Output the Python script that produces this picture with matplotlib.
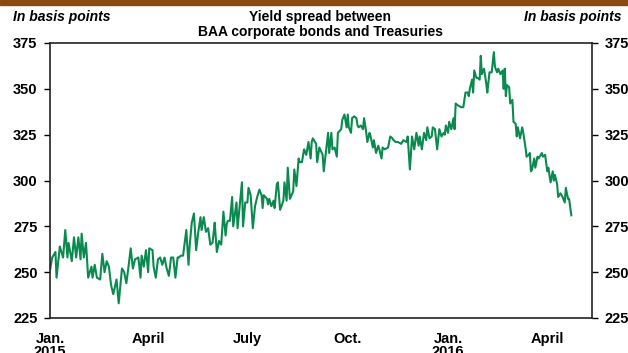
import pandas as pd
import matplotlib
matplotlib.use("Agg")
import matplotlib.pyplot as plt
from matplotlib.patches import Rectangle

# Days since 2015-01-01 and spread (basis points)
days = [0, 2, 5, 6, 9, 12, 14, 16, 17, 20, 22, 24, 26, 28, 29, 31, 33, 35, 38, 39,
        41, 43, 46, 48, 50, 52, 54, 56, 58, 61, 63, 66, 68, 70, 72, 74, 76, 78, 81, 83,
        84, 86, 88, 90, 91, 94, 95, 97, 99, 101, 103, 105, 107, 109, 111, 113, 115, 117, 118, 120,
        122, 125, 127, 128, 130, 132, 134, 136, 138, 139, 141, 143, 145, 147, 149, 150, 151, 153, 155, 157,
        159, 161, 162, 163, 165, 167, 168, 171, 172, 176, 177, 179, 181, 182, 184, 186, 188, 190, 192, 194,
        195, 196, 199, 200, 201, 203, 205, 206, 208, 209, 211, 214, 215, 217, 218, 220, 223, 224, 226, 228,
        229, 231, 233, 235, 237, 239, 240, 241, 244, 245, 247, 250, 251, 255, 256, 258, 259, 261, 263, 264,
        267, 268, 270, 272, 273, 274, 276, 277, 279, 281, 282, 283, 285, 287, 288, 290, 291, 293, 294, 296,
        297, 299, 301, 302, 304, 305, 307, 310, 312, 314, 315, 317, 319, 322, 324, 327, 328, 330, 332, 334,
        336, 338, 339, 341, 343, 345, 346, 348, 350, 351, 353, 355, 357, 359, 361, 362, 363, 365, 366, 368,
        370, 371, 372, 374, 377, 379, 381, 383, 384, 385, 387, 388, 389, 391, 392, 394, 395, 396, 398, 400,
        401, 403, 405, 407, 408, 410, 411, 413, 415, 416, 417, 418, 419, 421, 422, 424, 425, 427, 428, 429,
        431, 433, 434, 436, 437, 439, 440, 441, 442, 444, 445, 447, 448, 450, 451, 452, 454, 456, 457, 459,
        461, 462, 463, 465, 466, 468, 470, 472, 473, 475, 476, 478]
spread = [251, 258, 261, 247, 264, 258, 273, 258, 266, 256, 269, 258, 269, 257, 271, 258, 266, 247, 253, 247,
          254, 247, 246, 260, 250, 256, 253, 243, 238, 246, 233, 252, 250, 244, 253, 263, 252, 257, 258, 247,
          259, 253, 262, 250, 263, 262, 253, 247, 257, 258, 254, 258, 252, 248, 258, 258, 247, 258, 258, 259,
          259, 273, 254, 264, 277, 282, 262, 272, 280, 273, 280, 272, 274, 265, 266, 271, 277, 261, 267, 265,
          283, 270, 276, 278, 278, 291, 275, 288, 274, 299, 275, 288, 288, 296, 292, 274, 286, 291, 295, 292,
          285, 292, 290, 287, 290, 286, 289, 285, 298, 299, 284, 289, 299, 289, 307, 290, 294, 306, 297, 312,
          310, 310, 317, 314, 321, 312, 321, 323, 320, 310, 318, 314, 305, 326, 315, 326, 317, 318, 313, 326,
          328, 333, 336, 329, 336, 329, 326, 334, 335, 334, 330, 329, 330, 328, 334, 326, 321, 326, 324, 318,
          322, 315, 319, 317, 312, 318, 317, 318, 324, 323, 322, 321, 321, 320, 322, 321, 324, 306, 324, 317,
          326, 319, 324, 317, 326, 322, 329, 323, 324, 329, 328, 317, 328, 324, 326, 325, 330, 326, 332, 328,
          334, 328, 342, 341, 340, 340, 348, 348, 346, 350, 355, 348, 360, 356, 356, 355, 368, 358, 361, 353,
          348, 359, 359, 370, 362, 359, 361, 358, 360, 350, 361, 346, 352, 351, 342, 344, 332, 331, 324, 329,
          323, 329, 326, 318, 313, 314, 315, 305, 306, 312, 307, 313, 312, 314, 315, 313, 314, 305, 307, 299,
          305, 300, 303, 298, 291, 293, 291, 288, 296, 290, 290, 281]

y_ticks = [225, 250, 275, 300, 325, 350, 375]
x_tick_dates = ["2015-01-01", "2015-04-01", "2015-07-01", "2015-10-01", "2016-01-01", "2016-04-01"]
x_tick_labels = ["Jan.\n2015", "April", "July", "Oct.", "Jan.\n2016", "April"]

plt.rcParams["font.family"] = ["Liberation Sans", "DejaVu Sans"]

start = pd.Timestamp("2015-01-01")
dates = start + pd.to_timedelta(days, unit="D")

fig = plt.figure(figsize=(6.28, 3.53), dpi=100)
ax = fig.add_axes([50 / 628, 1 - 318 / 353, 542 / 628, 275 / 353])

ax.plot(dates, spread, color="#0b8a4f", linewidth=1.5)

ax.set_ylim(225, 375)
ax.set_xlim(start, start + pd.Timedelta(days=497))
ax.set_yticks(y_ticks)
ax.set_yticklabels([str(v) for v in y_ticks], fontsize=10.5, fontweight="bold")
ax.set_xticks(pd.to_datetime(x_tick_dates))
ax.set_xticklabels(x_tick_labels, fontsize=10.5, fontweight="bold", linespacing=0.9)
ax.tick_params(axis="x", length=0, pad=10)
ax.tick_params(axis="y", direction="out", length=4, width=1, pad=5,
               left=True, right=True, labelleft=True, labelright=True)
for s in ax.spines.values():
    s.set_linewidth(1.2)
    s.set_color("#222222")

# title and unit labels
fig.text(0.51, 1 - 10 / 353, "Yield spread between\nBAA corporate bonds and Treasuries",
         ha="center", va="top", fontsize=10, fontweight="bold", linespacing=1.05)
fig.text(13 / 628, 1 - 17 / 353, "In basis points", ha="left", va="center",
         fontsize=10, fontweight="bold", style="italic")
fig.text(621 / 628, 1 - 17 / 353, "In basis points", ha="right", va="center",
         fontsize=10, fontweight="bold", style="italic")

# brown strip at the top
fig.patches.append(Rectangle((0, 1 - 5 / 353), 1, 5 / 353, transform=fig.transFigure,
                             color="#8a4a12", zorder=0))

fig.savefig("out.png", dpi=100)
